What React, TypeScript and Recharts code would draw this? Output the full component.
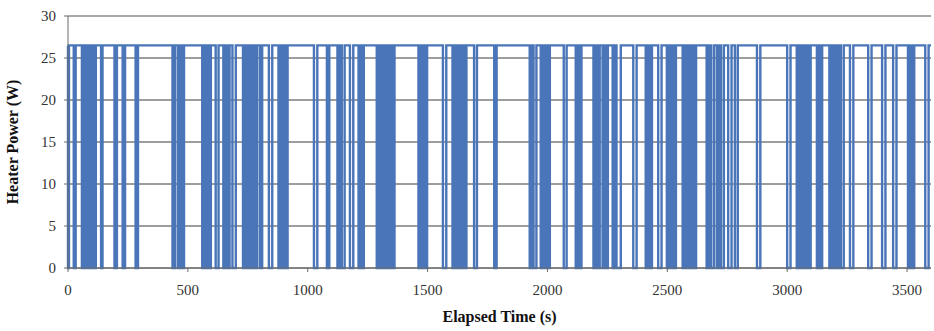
import React from "react";
import { LineChart, Line, XAxis, YAxis, CartesianGrid, ReferenceLine } from "recharts";

// Heater switched off (0 W) during these intervals, otherwise on at ON_POWER
const dipStart = [
  0, 24, 58, 74, 92, 108, 138, 194, 228, 282, 436, 458, 474, 560, 574, 588, 616, 648, 666, 686,
  730, 746, 762, 778, 800, 838, 878, 894, 908, 1026, 1080, 1124, 1142, 1176, 1212, 1226, 1288, 1302,
  1320, 1336, 1352, 1462, 1478, 1490, 1564, 1604, 1620, 1636, 1652, 1694, 1778, 1926, 1942, 1972,
  1988, 2002, 2068, 2118, 2134, 2192, 2208, 2230, 2244, 2272, 2288, 2358, 2410, 2426, 2462, 2498,
  2514, 2528, 2564, 2580, 2596, 2610, 2664, 2682, 2706, 2724, 2754, 2782, 2874, 3000, 3040, 3056,
  3072, 3088, 3124, 3138, 3176, 3192, 3208, 3224, 3262, 3338, 3396, 3442, 3504, 3520, 3576,
];
const dipEnd = [
  4, 32, 66, 82, 100, 116, 144, 204, 238, 292, 446, 466, 484, 568, 582, 596, 628, 656, 674, 700,
  738, 754, 770, 788, 810, 852, 886, 902, 916, 1040, 1090, 1132, 1154, 1190, 1220, 1234, 1296, 1310,
  1328, 1344, 1362, 1470, 1486, 1498, 1578, 1612, 1628, 1644, 1662, 1706, 1788, 1934, 1954, 1980,
  1996, 2010, 2080, 2126, 2142, 2200, 2218, 2238, 2252, 2280, 2306, 2372, 2418, 2436, 2476, 2506,
  2522, 2536, 2572, 2588, 2604, 2620, 2672, 2694, 2714, 2736, 2768, 2794, 2888, 3014, 3048, 3064,
  3080, 3098, 3132, 3146, 3184, 3200, 3216, 3236, 3276, 3352, 3410, 3456, 3512, 3530, 3590,
];
const ON_POWER = 26.5;
const END_TIME = 3600;

const xTicks = [0, 500, 1000, 1500, 2000, 2500, 3000, 3500];
const yTicks = [0, 5, 10, 15, 20, 25, 30];

const data: { t: number; p: number }[] = [];
dipStart.forEach((s, i) => {
  const e = dipEnd[i];
  data.push({ t: s, p: ON_POWER });
  data.push({ t: s, p: 0 });
  data.push({ t: e, p: 0 });
  data.push({ t: e, p: ON_POWER });
});
data.push({ t: END_TIME, p: ON_POWER });

const serif = "Liberation Serif";

export default function App() {
  return (
    <div
      style={{
        position: "absolute",
        left: 0,
        top: 0,
        width: 934,
        height: 331,
        background: "#fff",
        fontFamily: serif,
      }}
    >
      <LineChart
        width={934}
        height={331}
        data={data}
        margin={{ top: 16, right: 3, bottom: 0, left: 0 }}
        style={{ fontFamily: serif }}
      >
        <CartesianGrid horizontal vertical={false} stroke="#3c3c3c" strokeWidth={1} />
        <ReferenceLine y={30} stroke="#a8a8a8" strokeWidth={2} />
        <XAxis
          dataKey="t"
          type="number"
          domain={[0, END_TIME]}
          ticks={xTicks}
          height={63}
          tickSize={4}
          tickMargin={12}
          stroke="#6b6b6b"
          tick={{ fill: "#333", fontSize: 15, style: { fontFamily: serif } }}
          label={{
            value: "Elapsed Time (s)",
            position: "insideBottom",
            offset: 9,
            style: { fontFamily: serif, fontWeight: "bold", fontSize: 16, fill: "#111" },
          }}
        />
        <YAxis
          type="number"
          domain={[0, 30]}
          ticks={yTicks}
          width={68}
          tickSize={4}
          tickMargin={8}
          stroke="#6b6b6b"
          tick={{ fill: "#333", fontSize: 15, style: { fontFamily: serif } }}
          label={{
            value: "Heater Power (W)",
            angle: -90,
            position: "insideLeft",
            offset: 12,
            style: { textAnchor: "middle", fontFamily: serif, fontWeight: "bold", fontSize: 16, fill: "#111" },
          }}
        />
        <Line
          type="linear"
          dataKey="p"
          stroke="#4a76b9"
          strokeWidth={2.4}
          dot={false}
          isAnimationActive={false}
        />
      </LineChart>
    </div>
  );
}
